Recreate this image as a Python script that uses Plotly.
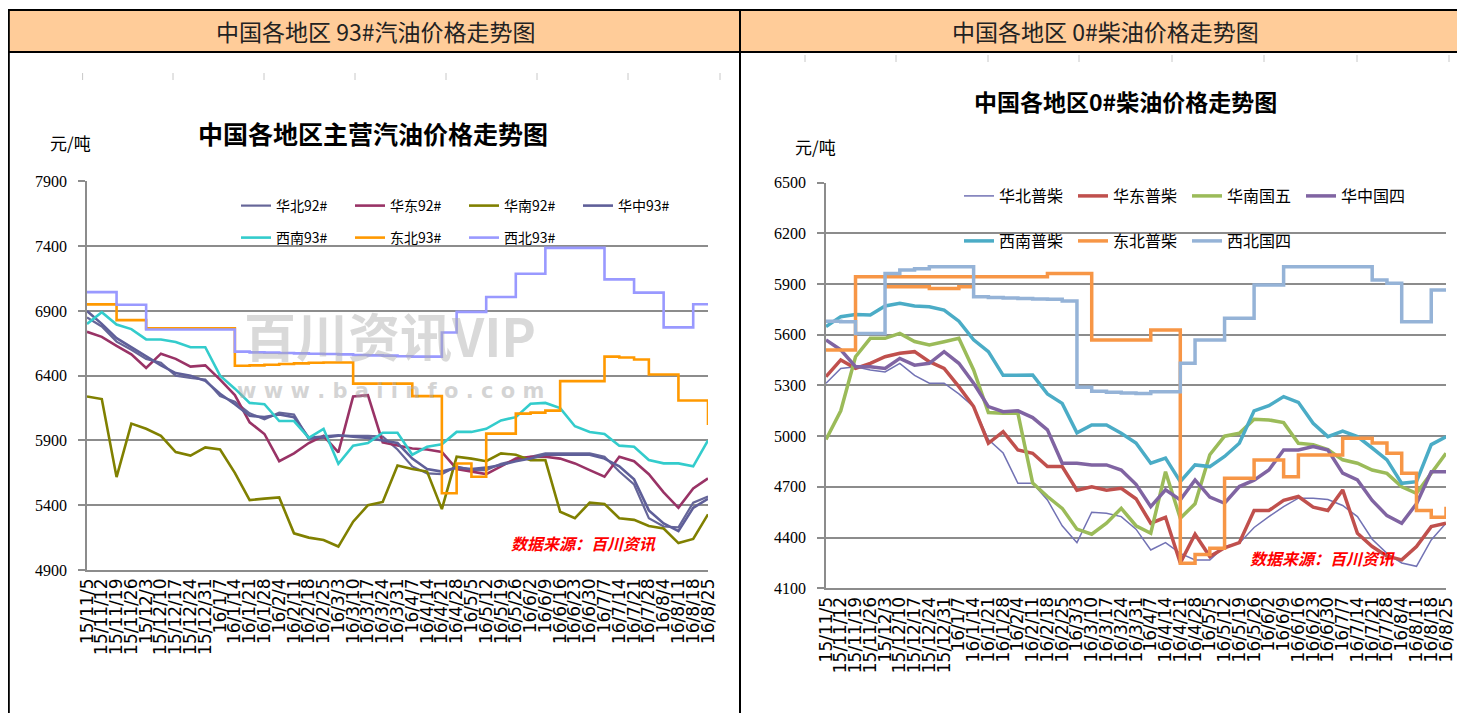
import pandas as pd
import plotly.graph_objects as go

# page body has an 8px margin: the figure is sized and positioned to land on the reference pixels
OFF = 8
W, H = 1465 - OFF, 713 - OFF

# ---------------- data ----------------
week_dates = pd.date_range("2015-11-05", periods=43, freq="7D")
week_labels = ["15/11/5", "15/11/12", "15/11/19", "15/11/26", "15/12/3", "15/12/10", "15/12/17",
               "15/12/24", "15/12/31", "16/1/7", "16/1/14", "16/1/21", "16/1/28", "16/2/4",
               "16/2/11", "16/2/18", "16/2/25", "16/3/3", "16/3/10", "16/3/17", "16/3/24",
               "16/3/31", "16/4/7", "16/4/14", "16/4/21", "16/4/28", "16/5/5", "16/5/12",
               "16/5/19", "16/5/26", "16/6/2", "16/6/9", "16/6/16", "16/6/23", "16/6/30",
               "16/7/7", "16/7/14", "16/7/21", "16/7/28", "16/8/4", "16/8/11", "16/8/18", "16/8/25"]

# gasoline (left)
huabei_92 = [6850, 6780, 6663, 6600, 6530, 6500, 6400, 6382, 6370, 6242, 6200, 6110, 6063, 6114, 6100,
             5910, 5920, 5936, 5936, 5936, 5930, 5830, 5700, 5646, 5640, 5700, 5671, 5671, 5720, 5749,
             5774, 5800, 5800, 5800, 5800, 5774, 5660, 5560, 5300, 5236, 5230, 5420, 5467]
huadong_92 = [6739, 6700, 6630, 6565, 6460, 6570, 6530, 6470, 6480, 6370, 6250, 6040, 5950, 5740, 5800,
              5880, 5936, 5808, 6240, 6250, 5885, 5860, 5838, 5830, 5812, 5680, 5660, 5640, 5700, 5760,
              5774, 5774, 5760, 5723, 5671, 5620, 5774, 5740, 5640, 5500, 5380, 5530, 5607]
huanan_92 = [6240, 6220, 5617, 6030, 5990, 5936, 5810, 5783, 5846, 5830, 5650, 5440, 5451, 5460, 5183,
             5150, 5132, 5081, 5273, 5400, 5425, 5706, 5680, 5660, 5370, 5774, 5760, 5740, 5800, 5790,
             5748, 5748, 5350, 5300, 5420, 5410, 5300, 5287, 5240, 5220, 5108, 5140, 5330]
huazhong_93 = [6900, 6800, 6690, 6620, 6550, 6480, 6420, 6400, 6360, 6260, 6180, 6090, 6080, 6100, 6080,
               5920, 5930, 5940, 5930, 5920, 5900, 5880, 5760, 5680, 5660, 5690, 5680, 5690, 5710, 5740,
               5760, 5790, 5790, 5790, 5790, 5760, 5700, 5600, 5360, 5260, 5200, 5380, 5450]
xinan_93 = [6800, 6890, 6795, 6760, 6680, 6680, 6660, 6620, 6620, 6400, 6300, 6190, 6180, 6050, 6050,
            5920, 5990, 5720, 5860, 5880, 5960, 5960, 5790, 5851, 5870, 5966, 5966, 5990, 6055, 6080,
            6184, 6190, 6150, 6010, 5966, 5950, 5860, 5851, 5749, 5723, 5723, 5700, 5900]
dongbei_93 = [6951, 6951, 6829, 6829, 6765, 6765, 6765, 6765, 6765, 6765, 6477, 6480, 6485, 6490, 6495,
              6500, 6502, 6502, 6339, 6339, 6339, 6339, 6242, 6242, 5492, 5722, 5620, 5953, 5953, 6107,
              6115, 6130, 6358, 6358, 6358, 6547, 6540, 6525, 6409, 6409, 6209, 6209, 6020]
xibei_93 = [7045, 7045, 6948, 6948, 6757, 6757, 6757, 6757, 6757, 6757, 6586, 6580, 6578, 6575, 6572,
            6570, 6568, 6565, 6560, 6557, 6555, 6550, 6547, 6547, 6734, 6893, 6893, 7008, 7008, 7187,
            7187, 7387, 7387, 7387, 7387, 7144, 7144, 7041, 7041, 6773, 6773, 6952, 6952]

# diesel (right)
huabei_pc = [5313, 5400, 5411, 5392, 5380, 5430, 5360, 5313, 5313, 5250, 5175, 4980, 4900, 4721, 4721,
             4623, 4470, 4370, 4550, 4544, 4524, 4450, 4327, 4370, 4307, 4268, 4268, 4347, 4367, 4460,
             4524, 4583, 4633, 4633, 4625, 4590, 4524, 4390, 4307, 4250, 4230, 4386, 4485]
huadong_pc = [5352, 5451, 5401, 5431, 5470, 5490, 5500, 5441, 5401, 5293, 5175, 4958, 5027, 4918, 4899,
              4820, 4820, 4680, 4700, 4680, 4692, 4630, 4485, 4520, 4250, 4420, 4288, 4340, 4370, 4560,
              4560, 4620, 4643, 4580, 4560, 4682, 4426, 4347, 4290, 4268, 4347, 4465, 4485]
huanan_g5 = [4980, 5150, 5470, 5579, 5579, 5608, 5560, 5540, 5559, 5579, 5392, 5140, 5135, 5135, 4722,
             4643, 4573, 4450, 4420, 4485, 4573, 4470, 4426, 4790, 4514, 4600, 4890, 5000, 5017, 5100,
             5096, 5080, 4958, 4950, 4920, 4860, 4840, 4800, 4780, 4700, 4662, 4781, 4899]
huazhong_g4 = [5569, 5510, 5411, 5411, 5401, 5460, 5420, 5431, 5500, 5431, 5313, 5175, 5145, 5150, 5110,
               5037, 4840, 4840, 4830, 4830, 4800, 4715, 4583, 4682, 4623, 4741, 4640, 4603, 4702, 4740,
               4800, 4918, 4918, 4938, 4918, 4781, 4741, 4620, 4530, 4485, 4600, 4790, 4790]
xinan_pc = [5648, 5707, 5720, 5717, 5770, 5786, 5770, 5766, 5746, 5680, 5570, 5500, 5360, 5362, 5362,
            5250, 5194, 5020, 5066, 5066, 5017, 4960, 4840, 4870, 4731, 4830, 4820, 4880, 4958, 5150,
            5180, 5234, 5200, 5076, 4997, 5030, 4997, 4930, 4860, 4721, 4731, 4950, 4997]
dongbei_pc = [5510, 5510, 5943, 5943, 5943, 5943, 5943, 5943, 5943, 5943, 5943, 5943, 5943, 5943, 5943,
              5963, 5963, 5963, 5569, 5569, 5569, 5569, 5628, 5628, 4248, 4300, 4337, 4751, 4751, 4859,
              4859, 4760, 4889, 4889, 4889, 4987, 4987, 4960, 4899, 4781, 4560, 4520, 4583]
dongbei_pc_b = [None, None, None, None, 5884, 5884, 5884, 5874, 5874, 5884, 5884, None, None, None, None,
                None, None, None, None, None, None, None, None, None, None, None, None, None, None, None,
                None, None, None, None, None, None, None, None, None, None, None, None, None]
xibei_g4 = [5680, 5677, 5608, 5608, 5963, 5983, 5990, 6002, 6002, 6002, 5825, 5820, 5818, 5815, 5812,
            5810, 5800, 5290, 5265, 5260, 5255, 5253, 5263, 5263, 5431, 5569, 5569, 5697, 5697, 5894,
            5894, 6002, 6002, 6002, 6002, 6002, 6002, 5924, 5904, 5677, 5677, 5865, 5855]

gas_series = [
    ("华北92#", huabei_92, "#666699", 2.2, "linear", "legend"),
    ("华东92#", huadong_92, "#993366", 2.6, "linear", "legend"),
    ("华南92#", huanan_92, "#808000", 2.6, "linear", "legend"),
    ("华中93#", huazhong_93, "#5F5F99", 2.6, "linear", "legend"),
    ("西南93#", xinan_93, "#33CCCC", 2.6, "linear", "legend2"),
    ("东北93#", dongbei_93, "#FF9900", 2.6, "hv", "legend2"),
    ("西北93#", xibei_93, "#9999FF", 2.6, "hv", "legend2"),
]
diesel_series = [
    ("华北普柴", huabei_pc, "#7272B4", 1.5, "linear", "legend3"),
    ("华东普柴", huadong_pc, "#C0504D", 3.5, "linear", "legend3"),
    ("华南国五", huanan_g5, "#9BBB59", 3.5, "linear", "legend3"),
    ("华中国四", huazhong_g4, "#8064A2", 3.5, "linear", "legend3"),
    ("西南普柴", xinan_pc, "#4BACC6", 3.5, "linear", "legend4"),
    ("东北普柴", dongbei_pc, "#F79646", 3.5, "hv", "legend4"),
    ("西北国四", xibei_g4, "#95B3D7", 3.5, "hv", "legend4"),
]


def px(x):
    return (x - OFF) / W


def py(y):
    return 1 - (y - OFF) / H


fig = go.Figure()

for name, vals, color, width, shape, leg in gas_series:
    fig.add_trace(go.Scatter(x=week_dates, y=vals, name=name, mode="lines",
                             line=dict(color=color, width=width, shape=shape),
                             xaxis="x", yaxis="y", legend=leg))

fig.add_trace(go.Scatter(x=week_dates, y=dongbei_pc_b, name="东北普柴", mode="lines", showlegend=False,
                         line=dict(color="#F79646", width=3.5, shape="hv"), connectgaps=False,
                         xaxis="x2", yaxis="y2"))
for name, vals, color, width, shape, leg in diesel_series:
    fig.add_trace(go.Scatter(x=week_dates, y=vals, name=name, mode="lines",
                             line=dict(color=color, width=width, shape=shape),
                             xaxis="x2", yaxis="y2", legend=leg))

GRID = "#8C8C8C"
xfont = dict(family="DejaVu Sans", size=17, color="#000000")
yfont = dict(family="Liberation Sans Narrow", size=16, color="#000000")

common_x = dict(type="date", tickmode="array", tickvals=list(week_dates), ticktext=week_labels,
                tickangle=-90, tickfont=xfont, showgrid=False, zeroline=False, showline=True,
                linecolor=GRID, linewidth=1.5, ticks="", range=[week_dates[0], week_dates[-1]],
                fixedrange=True, automargin=False)
common_y = dict(showgrid=True, gridcolor=GRID, gridwidth=1.6, zeroline=False, showline=True,
                linecolor=GRID, linewidth=1.5, ticks="outside", ticklen=7, tickcolor=GRID,
                tickwidth=1.5, tickfont=yfont, ticklabelstandoff=8, fixedrange=True, automargin=False)

fig.update_layout(
    template="none",
    width=W, height=H, autosize=False, margin=dict(l=0, r=0, t=0, b=0, pad=0, autoexpand=False),
    paper_bgcolor="white", plot_bgcolor="rgba(0,0,0,0)",
    xaxis=dict(domain=[px(87), px(708)], anchor="y", **common_x),
    yaxis=dict(domain=[py(570), py(181.4)], anchor="x", range=[4900, 7900], tickmode="linear",
               tick0=4900, dtick=500, **common_y),
    xaxis2=dict(domain=[px(826), px(1446)], anchor="y2", **common_x),
    yaxis2=dict(domain=[py(588.3), py(182.6)], anchor="x2", range=[4100, 6500], tickmode="linear",
                tick0=4100, dtick=300, **common_y),
)

leg_common = dict(orientation="h", xanchor="left", yanchor="middle", bgcolor="rgba(0,0,0,0)",
                  borderwidth=0, itemwidth=30, entrywidthmode="pixels", tracegroupgap=0,
                  itemclick=False, itemdoubleclick=False)
fig.update_layout(
    legend=dict(x=px(236), y=py(206), entrywidth=69,
                font=dict(family="Noto Sans CJK SC", size=14, color="#000"), **leg_common),
    legend2=dict(x=px(236), y=py(238), entrywidth=69,
                 font=dict(family="Noto Sans CJK SC", size=14, color="#000"), **leg_common),
    legend3=dict(x=px(959), y=py(196), entrywidth=69,
                 font=dict(family="Noto Sans CJK SC", size=16, color="#000"), **leg_common),
    legend4=dict(x=px(959), y=py(241), entrywidth=69,
                 font=dict(family="Noto Sans CJK SC", size=16, color="#000"), **leg_common),
)

shapes = []
# header cells
shapes.append(dict(type="rect", xref="paper", yref="paper", x0=px(8.8), x1=px(740), y0=py(52), y1=py(10),
                   fillcolor="#FFCC99", line=dict(color="black", width=2), layer="below"))
shapes.append(dict(type="rect", xref="paper", yref="paper", x0=px(740), x1=px(1462), y0=py(52), y1=py(10),
                   fillcolor="#FFCC99", line=dict(color="black", width=2), layer="below"))
for xv in (8.8, 740, 1462):
    shapes.append(dict(type="line", xref="paper", yref="paper", x0=px(xv), x1=px(xv), y0=py(52), y1=0,
                       line=dict(color="black", width=2)))
# faint marks near the top of each picture
for xv in (82.6, 173, 264, 355, 446, 537, 628, 720):
    shapes.append(dict(type="line", xref="paper", yref="paper", x0=px(xv), x1=px(xv), y0=py(80), y1=py(73),
                       line=dict(color="#C8C8C8", width=1)))
for xv in (805, 896, 988, 1079, 1172, 1264, 1357, 1449):
    shapes.append(dict(type="line", xref="paper", yref="paper", x0=px(xv), x1=px(xv), y0=py(62), y1=py(55),
                       line=dict(color="#C8C8C8", width=1)))
fig.update_layout(shapes=shapes)

ann = []


def add_text(text, x, y, size, family="Noto Sans CJK SC", color="#000", weight="normal", xanchor="center",
             style="normal"):
    ann.append(dict(text=text, x=px(x), y=py(y), xref="paper", yref="paper", showarrow=False,
                    xanchor=xanchor, yanchor="middle",
                    font=dict(family=family, size=size, color=color, weight=weight, style=style)))


add_text("中国各地区 93#汽油价格走势图", 375, 31, 23, color="#222")
add_text("中国各地区 0#柴油价格走势图", 1105, 31, 23, color="#222")
add_text("中国各地区主营汽油价格走势图", 373, 133, 25, weight="bold")
add_text("中国各地区0#柴油价格走势图", 1125, 101, 23, weight="bold")
add_text("元/吨", 70, 143, 17)
add_text("元/吨", 815, 147, 17)
# watermark
add_text("百川资讯VIP", 390, 334, 52, color="rgba(170,170,170,0.45)", weight="bold")
add_text("w w w . b a i i n f o . c o m", 390, 391, 21, family="DejaVu Sans", color="rgba(170,170,170,0.5)",
         weight="bold")
add_text("数据来源：百川资讯", 583, 543, 16, color="#FF0000", weight="bold", style="italic")
add_text("数据来源：百川资讯", 1322, 558, 16, color="#FF0000", weight="bold", style="italic")
fig.update_layout(annotations=ann)

fig.write_html("out.html", config={"displayModeBar": False})
